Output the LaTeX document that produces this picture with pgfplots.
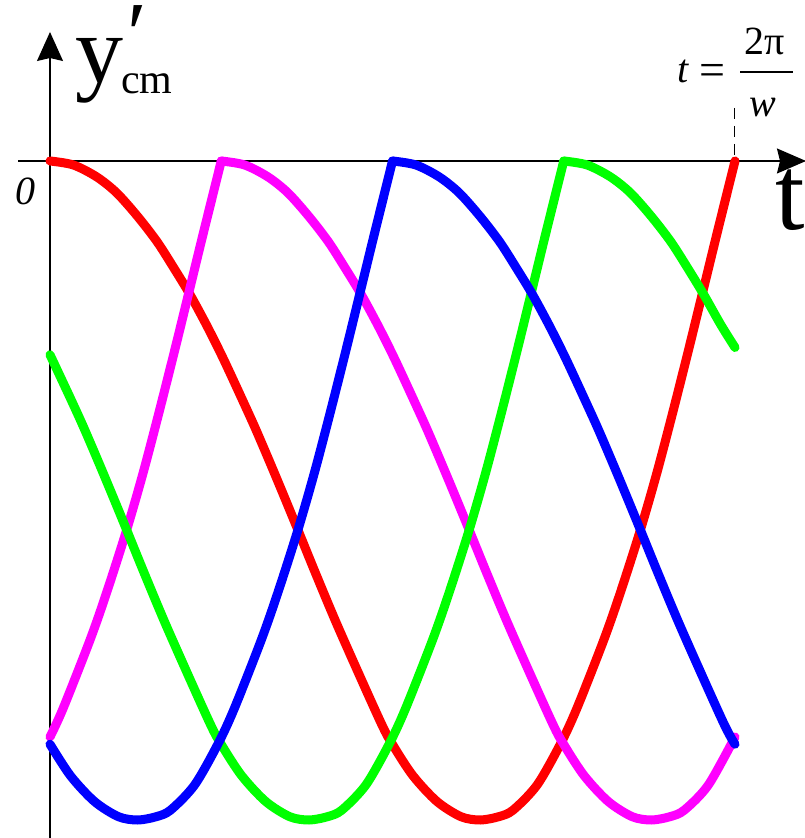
\documentclass[border=0pt]{standalone}
\usepackage{pgfplots}
\pgfplotsset{compat=1.18}
\usepackage{pgfplotstable}
\usepackage{fontspec}
\setmainfont{Liberation Serif}
\usetikzlibrary{arrows.meta}

\definecolor{cRed}{RGB}{255,0,0}
\definecolor{cMagenta}{RGB}{255,0,255}
\definecolor{cGreen}{RGB}{0,255,0}
\definecolor{cBlue}{RGB}{0,0,255}

\newcommand{\fs}[1]{\fontsize{#1}{#1}\selectfont}

% t in units of the period 2pi/w, y'_cm in units of its largest drop
\pgfplotstableread{
t y
0.000 0.000
0.034 -0.006
0.068 -0.024
0.097 -0.048
0.127 -0.083
0.156 -0.122
0.180 -0.161
0.204 -0.202
0.229 -0.250
0.253 -0.300
0.282 -0.365
0.302 -0.411
0.331 -0.482
0.360 -0.555
0.389 -0.629
0.423 -0.713
0.482 -0.850
0.501 -0.887
0.530 -0.933
0.565 -0.972
0.600 -0.995
0.628 -1.000
0.655 -0.995
0.676 -0.985
0.711 -0.947
0.745 -0.885
0.769 -0.831
0.808 -0.728
0.832 -0.657
0.861 -0.563
0.886 -0.473
0.910 -0.378
0.934 -0.279
0.954 -0.194
0.973 -0.113
1.000 0.000
}\redcurve

\pgfplotstableread{
t y
0.000 -0.874
0.019 -0.831
0.058 -0.728
0.082 -0.657
0.111 -0.563
0.136 -0.473
0.160 -0.378
0.184 -0.279
0.204 -0.194
0.223 -0.113
0.250 0.000
}\magentaA

\pgfplotstableread{
t y
0.250 0.000
0.284 -0.006
0.318 -0.024
0.347 -0.048
0.377 -0.083
0.406 -0.122
0.430 -0.161
0.454 -0.202
0.479 -0.250
0.503 -0.300
0.532 -0.365
0.552 -0.411
0.581 -0.482
0.610 -0.555
0.639 -0.629
0.673 -0.713
0.732 -0.850
0.751 -0.887
0.780 -0.933
0.815 -0.972
0.850 -0.995
0.878 -1.000
0.905 -0.995
0.926 -0.985
0.961 -0.947
1.000 -0.874
}\magentaB

\pgfplotstableread{
t y
0.000 -0.885
0.030 -0.933
0.065 -0.972
0.100 -0.995
0.128 -1.000
0.155 -0.995
0.176 -0.985
0.211 -0.947
0.245 -0.885
0.269 -0.831
0.308 -0.728
0.332 -0.657
0.361 -0.563
0.386 -0.473
0.410 -0.378
0.434 -0.279
0.454 -0.194
0.473 -0.113
0.500 0.000
}\blueA

\pgfplotstableread{
t y
0.500 0.000
0.534 -0.006
0.568 -0.024
0.597 -0.048
0.627 -0.083
0.656 -0.122
0.680 -0.161
0.704 -0.202
0.729 -0.250
0.753 -0.300
0.782 -0.365
0.802 -0.411
0.831 -0.482
0.860 -0.555
0.889 -0.629
0.923 -0.713
0.982 -0.850
1.000 -0.885
}\blueB

\pgfplotstableread{
t y
0.000 -0.294
0.032 -0.365
0.052 -0.411
0.081 -0.482
0.110 -0.555
0.139 -0.629
0.173 -0.713
0.232 -0.850
0.251 -0.887
0.280 -0.933
0.315 -0.972
0.350 -0.995
0.378 -1.000
0.405 -0.995
0.426 -0.985
0.461 -0.947
0.495 -0.885
0.519 -0.831
0.558 -0.728
0.582 -0.657
0.611 -0.563
0.636 -0.473
0.660 -0.378
0.684 -0.279
0.704 -0.194
0.723 -0.113
0.750 0.000
}\greenA

\pgfplotstableread{
t y
0.750 0.000
0.784 -0.006
0.818 -0.024
0.847 -0.048
0.877 -0.083
0.906 -0.122
0.930 -0.161
0.954 -0.202
0.979 -0.248
1.000 -0.283
}\greenB

\begin{document}
\begin{tikzpicture}
% axes drawn by hand: vertical y'_cm axis and horizontal t axis
\draw[line width=1.3pt, -{Stealth[length=29pt,width=25pt,inset=3pt]}]
  (18pt,677pt) -- (806pt,677pt);
\draw[line width=1.3pt, -{Stealth[length=29pt,width=26pt,inset=3pt]}]
  (50pt,0pt) -- (50pt,806pt);
% end of one period
\draw[line width=1pt, dash pattern=on 11pt off 7pt] (734pt,730pt) -- (734pt,677pt);

\begin{axis}[
  at={(0pt,0pt)}, anchor=south west,
  scale only axis, width=804pt, height=838pt,
  xmin=-0.072993, xmax=1.100730,
  ymin=-1.027314, ymax=0.244309,
  hide axis,
]
\addplot[cRed,     smooth, line width=9pt, line cap=round] table[x=t,y=y] {\redcurve};
\addplot[cMagenta, smooth, line width=9pt, line cap=round] table[x=t,y=y] {\magentaA};
\addplot[cMagenta, smooth, line width=9pt, line cap=round] table[x=t,y=y] {\magentaB};
\addplot[cGreen,   smooth, line width=9pt, line cap=round] table[x=t,y=y] {\greenA};
\addplot[cGreen,   smooth, line width=9pt, line cap=round] table[x=t,y=y] {\greenB};
\addplot[cBlue,    smooth, line width=9pt, line cap=round] table[x=t,y=y] {\blueA};
\addplot[cBlue,    smooth, line width=9pt, line cap=round] table[x=t,y=y] {\blueB};
\end{axis}

% axis titles
\node[anchor=base west, inner sep=0] at (75pt,755pt) {\fs{96}y};
\node[anchor=base west, inner sep=0] at (127pt,773pt) {\fs{90}′};
\node[anchor=base west, inner sep=0] at (121pt,744pt) {\fs{42}cm};
\node[anchor=base, inner sep=0] at (25pt,633pt) {\fs{40}\itshape 0};
\node[anchor=base west, inner sep=0] at (775pt,608pt) {\fs{106}t};

% period mark t = 2pi/w
\node[anchor=base west, inner sep=0] at (677pt,755pt) {\fs{40}\itshape t};
\node[anchor=base, inner sep=0] at (712.5pt,752pt) {\fs{46}=};
\draw[line width=1.6pt] (740pt,766pt) -- (793pt,766pt);
\node[anchor=base, inner sep=0] at (765pt,783pt) {\fs{40}2π};
\node[anchor=base, inner sep=0] at (763pt,721pt) {\fs{40}\itshape w};

\pgfresetboundingbox
\useasboundingbox (0pt,0pt) rectangle (804pt,838pt);
\end{tikzpicture}
\end{document}
